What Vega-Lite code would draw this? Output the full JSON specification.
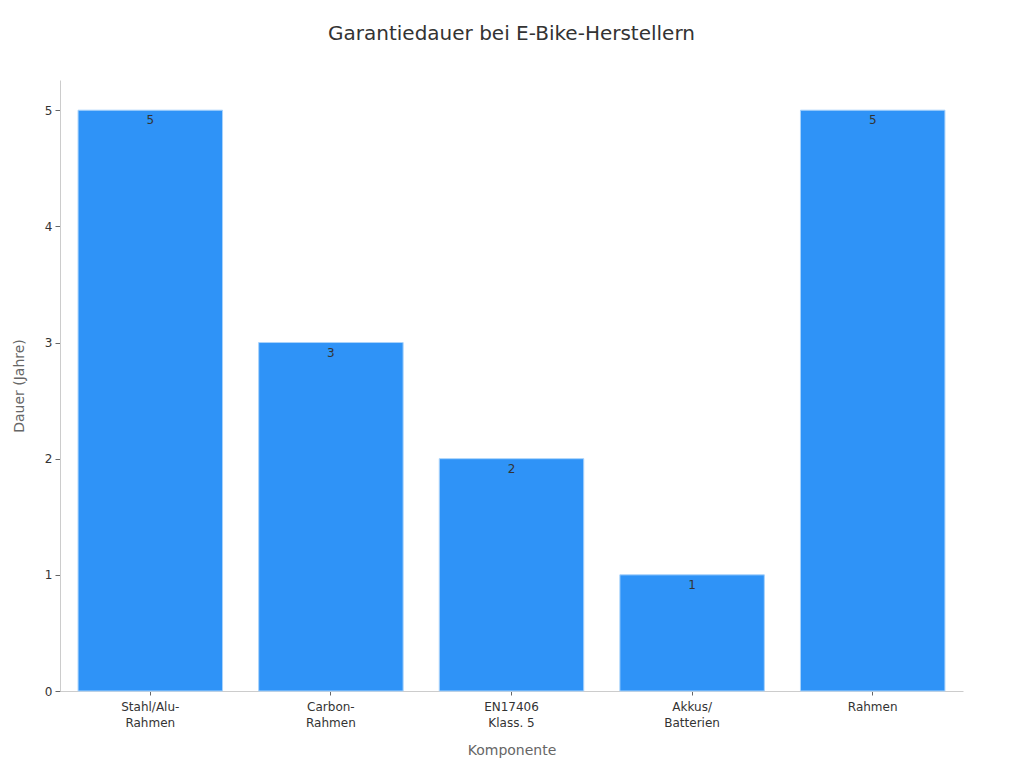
{
  "$schema": "https://vega.github.io/schema/vega-lite/v6.json",
  "width": 903,
  "height": 611,
  "autosize": {"type": "none"},
  "padding": {"left": 60, "top": 80, "right": 61, "bottom": 77},
  "background": "white",
  "config": {
    "font": "DejaVu Sans",
    "view": {"stroke": null}
  },
  "title": {
    "text": "Garantiedauer bei E-Bike-Herstellern",
    "fontSize": 20,
    "fontWeight": "normal",
    "color": "#333333",
    "font": "DejaVu Sans",
    "offset": 36,
    "anchor": "middle"
  },
  "data": {
    "values": [
      {"Komponente": "Stahl/Alu-\nRahmen", "Dauer": 5},
      {"Komponente": "Carbon-\nRahmen", "Dauer": 3},
      {"Komponente": "EN17406\nKlass. 5", "Dauer": 2},
      {"Komponente": "Akkus/\nBatterien", "Dauer": 1},
      {"Komponente": "Rahmen ", "Dauer": 5}
    ]
  },
  "encoding": {
    "x": {
      "field": "Komponente",
      "type": "nominal",
      "sort": null,
      "scale": {"paddingInner": 0.2, "paddingOuter": 0.1},
      "axis": {
        "title": "Komponente",
        "titleColor": "#666666",
        "titleFontSize": 14,
        "titleFontWeight": "normal",
        "titlePadding": 15,
        "labelAngle": 0,
        "labelColor": "#333333",
        "labelFontSize": 12,
        "labelLineHeight": 16,
        "labelPadding": 6,
        "labelExpr": "split(datum.label, '\\n')",
        "domainColor": "#cccccc",
        "tickColor": "#666666",
        "tickSize": 4,
        "grid": false
      }
    },
    "y": {
      "field": "Dauer",
      "type": "quantitative",
      "scale": {"domain": [0, 5.26], "nice": false},
      "axis": {
        "title": "Dauer (Jahre)",
        "titleColor": "#666666",
        "titleFontSize": 14,
        "titleFontWeight": "normal",
        "titlePadding": 18,
        "values": [0, 1, 2, 3, 4, 5],
        "labelColor": "#333333",
        "labelFontSize": 12,
        "labelPadding": 3,
        "domainColor": "#cccccc",
        "tickColor": "#666666",
        "tickSize": 5,
        "grid": false
      }
    }
  },
  "layer": [
    {
      "mark": {"type": "bar", "color": "#2f93f7", "stroke": "#a9d3fb", "strokeWidth": 1}
    },
    {
      "mark": {"type": "text", "baseline": "top", "dy": 5, "fontSize": 12, "color": "#333333"},
      "encoding": {"text": {"field": "Dauer", "type": "quantitative"}}
    }
  ]
}
